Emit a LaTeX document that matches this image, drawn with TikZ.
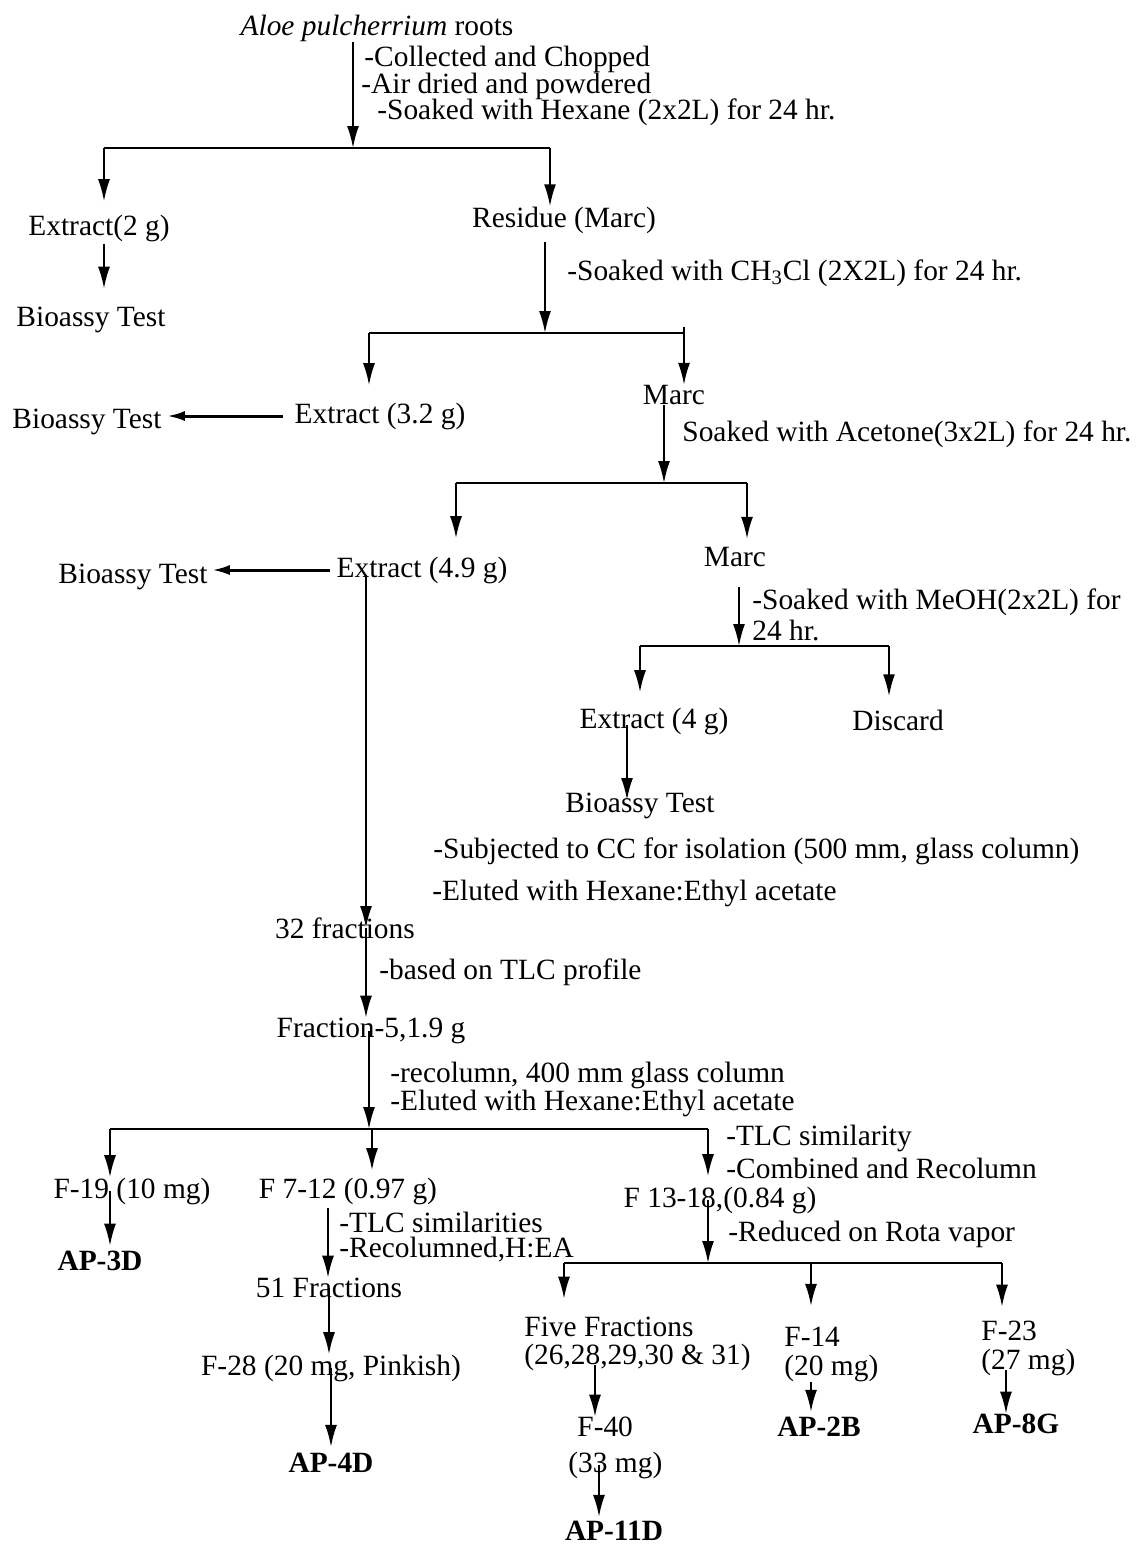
\documentclass[tikz,border=0pt]{standalone}
\usepackage{fontspec}
\setmainfont{Liberation Serif}
\usetikzlibrary{arrows.meta}

\begin{document}
\begin{tikzpicture}[x=0.5pt,y=-0.5pt,
  font=\fontsize{14.7}{12.5}\selectfont,
  txt/.style={inner sep=0pt},
  note/.style={inner sep=0pt,anchor=west},
  arr/.style={line width=1pt,-{Latex[length=11pt,width=6pt]}},
  harr/.style={line width=1.5pt,-{Latex[length=9pt,width=5pt]}},
  bar/.style={line width=1.4pt}]
\useasboundingbox (0,0) rectangle (1138,1544);

% roots and first soaking
\node[txt] (root) at (377,28) {\textit{Aloe pulcherrium} roots};
\node[note] (s1a) at (364,59) {-Collected and Chopped};
\node[note] (s1b) at (361,86) {-Air dried and powdered};
\node[note] (s1c) at (377,112) {-Soaked with Hexane (2x2L) for 24 hr.};
\coordinate (j1) at (353,148);
\coordinate (b1l) at (104,148);
\coordinate (b1r) at (550,148);
\node[txt] (ext1) at (99,228) {Extract(2 g)};
\node[txt] (res) at (564,220) {Residue (Marc)};
\node[txt] (bio1) at (91,320) {Bioassy Test};

% chloroform
\node[note] (s2) at (567,273) {-Soaked with CH\textsubscript{3}Cl (2X2L) for 24 hr.};
\coordinate (j2) at (545,333);
\coordinate (b2l) at (369,333);
\coordinate (b2r) at (684,333);
\node[txt] (ext2) at (380,416) {Extract (3.2 g)};
\node[txt] (marc1) at (674,395) {Marc};
\node[txt] (bio2) at (87,422) {Bioassy Test};

% acetone
\node[note] (s3) at (682,434) {Soaked with Acetone(3x2L) for 24 hr.};
\coordinate (j3) at (664,483);
\coordinate (b3l) at (456,483);
\coordinate (b3r) at (747,483);
\node[txt] (ext3) at (422,570) {Extract (4.9 g)};
\node[txt] (marc2) at (735,557) {Marc};
\node[txt] (bio3) at (133,577) {Bioassy Test};

% methanol
\node[note] (s4a) at (752,602) {-Soaked with MeOH(2x2L) for};
\node[note] (s4b) at (752,630) {24 hr.};
\coordinate (j4) at (739,646);
\coordinate (b4l) at (640,646);
\coordinate (b4r) at (889,646);
\node[txt] (ext4) at (654,721) {Extract (4 g)};
\node[txt] (disc) at (898,720) {Discard};
\node[txt] (bio4) at (640,806) {Bioassy Test};
\coordinate (t4) at (627,725);

% column of the acetone extract
\node[note] (s5a) at (433,851) {-Subjected to CC for isolation (500 mm, glass column)};
\node[note] (s5b) at (432,893) {-Eluted with Hexane:Ethyl acetate};
\coordinate (t3) at (366,575);
\node[txt] (fr32) at (345,928) {32 fractions};
\node[note] (s6) at (379,972) {-based on TLC profile};
\node[txt] (fr5) at (371,1031) {Fraction-5,1.9 g};
\coordinate (t5) at (369,1031);
\node[note] (s7a) at (390,1075) {-recolumn, 400 mm glass column};
\node[note] (s7b) at (390,1103) {-Eluted with Hexane:Ethyl acetate};
\coordinate (j5) at (369,1129);
\coordinate (b5l) at (110,1129);
\coordinate (b5m) at (372,1129);
\coordinate (b5r) at (708,1129);
\node[note] (s8a) at (726,1138) {-TLC similarity};
\node[note] (s8b) at (726,1168) {-Combined and Recolumn};
\node[txt] (f19) at (132,1191) {F-19 (10 mg)};
\node[txt] (f712) at (348,1191) {F 7-12 (0.97 g)};
\node[txt] (f1318) at (720,1200) {F 13-18,(0.84 g)};
\node[txt] (ap3d) at (100,1261) {\textbf{AP-3D}};

% F 7-12 branch
\node[note] (s9a) at (339,1222) {-TLC similarities};
\node[note] (s9b) at (339,1250) {-Recolumned,H:EA};
\coordinate (t6) at (328,1208);
\node[txt] (fr51) at (329,1288) {51 Fractions};
\node[txt] (f28) at (331,1368) {F-28 (20 mg, Pinkish)};
\node[txt] (ap4d) at (331,1463) {\textbf{AP-4D}};

% F 13-18 branch
\node[note] (s10) at (728,1234) {-Reduced on Rota vapor};
\coordinate (j6) at (708,1263);
\coordinate (b6l) at (564,1263);
\coordinate (b6m) at (811,1263);
\coordinate (b6r) at (1002,1263);
\node[note] (fiveA) at (524,1327) {Five Fractions};
\node[note] (fiveB) at (524,1357) {(26,28,29,30 \& 31)};
\node[note] (f40) at (577,1427) {F-40};
\node[note] (mg33) at (568,1465) {(33 mg)};
\node[txt] (ap11d) at (614,1531) {\textbf{AP-11D}};
\node[note] (f14) at (784,1337) {F-14};
\node[note] (mg20) at (784,1368) {(20 mg)};
\node[txt] (ap2b) at (819,1427) {\textbf{AP-2B}};
\node[note] (f23) at (981,1331) {F-23};
\node[note] (mg27) at (981,1362) {(27 mg)};
\node[txt] (ap8g) at (1016,1424) {\textbf{AP-8G}};
\coordinate (t7) at (595,1365);
\coordinate (t8) at (599,1465);
\coordinate (t9) at (1006,1370);

% connectors
\draw[arr] (root.south -| j1) -- (j1);
\draw[bar] (b1l) -- (b1r);
\draw[arr,shorten >=6.5pt] (b1l) -- (b1l |- ext1.north);
\draw[arr] (b1r) -- (b1r |- res.north);
\draw[arr,shorten <=1pt,shorten >=9pt] (ext1.south -| b1l) -- (bio1.north -| b1l);
\draw[arr,shorten <=4pt] (res.south -| j2) -- (j2);
\draw[bar] (b2l) -- (b2r);
\draw[arr,shorten >=8.5pt] (b2l) -- (b2l |- ext2.north);
\draw[arr] ([yshift=3pt]b2r) -- (b2r |- marc1.north);
\draw[harr,shorten <=5.5pt,shorten >=2.5pt] (ext2.west) -- (ext2.west -| bio2.east);
\draw[arr] (marc1.south -| j3) -- (j3);
\draw[bar] (b3l) -- (b3r);
\draw[arr,shorten >=9pt] (b3l) -- (b3l |- ext3.north);
\draw[arr,shorten >=4pt] (b3r) -- (b3r |- marc2.north);
\draw[harr,shorten <=3pt,shorten >=2pt] (ext3.west) -- (ext3.west -| bio3.east);
\draw[arr,shorten <=10pt] (marc2.south -| j4) -- (j4);
\draw[bar] (b4l) -- (b4r);
\draw[arr,shorten >=7.5pt] (b4l) -- (b4l |- ext4.north);
\draw[arr,shorten >=6.5pt] (b4r) -- (b4r |- disc.north);
\draw[arr,shorten >=3pt] (t4) -- (t4 |- bio4.center);
\draw[arr] (t3) -- (t3 |- fr32.center);
\draw[arr] (t3 |- fr32.center) -- (t3 |- fr5.north);
\draw[arr] (t5) -- (j5);
\draw[bar] (b5l) -- (b5r);
\draw[arr] (b5l) -- (b5l |- f19.north);
\draw[arr,shorten >=3.5pt] (b5m) -- (b5m |- f712.north);
\draw[arr,shorten >=5pt] (b5r) -- (b5r |- f1318.north);
\draw[arr,shorten >=2.5pt] (f19.center -| b5l) -- (b5l |- ap3d.north);
\draw[arr] (t6) -- (t6 |- fr51.north);
\draw[arr] (fr51.center) -- (fr51.center |- f28.north);
\draw[arr,shorten >=3pt] (f28.center) -- (f28.center |- ap4d.north);
\draw[arr] (f1318.center -| j6) -- (j6);
\draw[bar] (b6l) -- (b6r);
\draw[arr,shorten >=9pt] (b6l) -- (b6l |- fiveA.north);
\draw[arr,shorten >=10.5pt] (b6m) -- (b6m |- f14.north);
\draw[arr,shorten >=7pt] (b6r) -- (b6r |- f23.north);
\draw[arr] (t7) -- (t7 |- f40.north);
\draw[arr,shorten >=2pt] (t8) -- (t8 |- ap11d.north);
\draw[arr,shorten >=2.5pt] (mg20.south -| b6m) -- (b6m |- ap2b.north);
\draw[arr] (t9) -- (t9 |- ap8g.north);

\end{tikzpicture}
\end{document}
